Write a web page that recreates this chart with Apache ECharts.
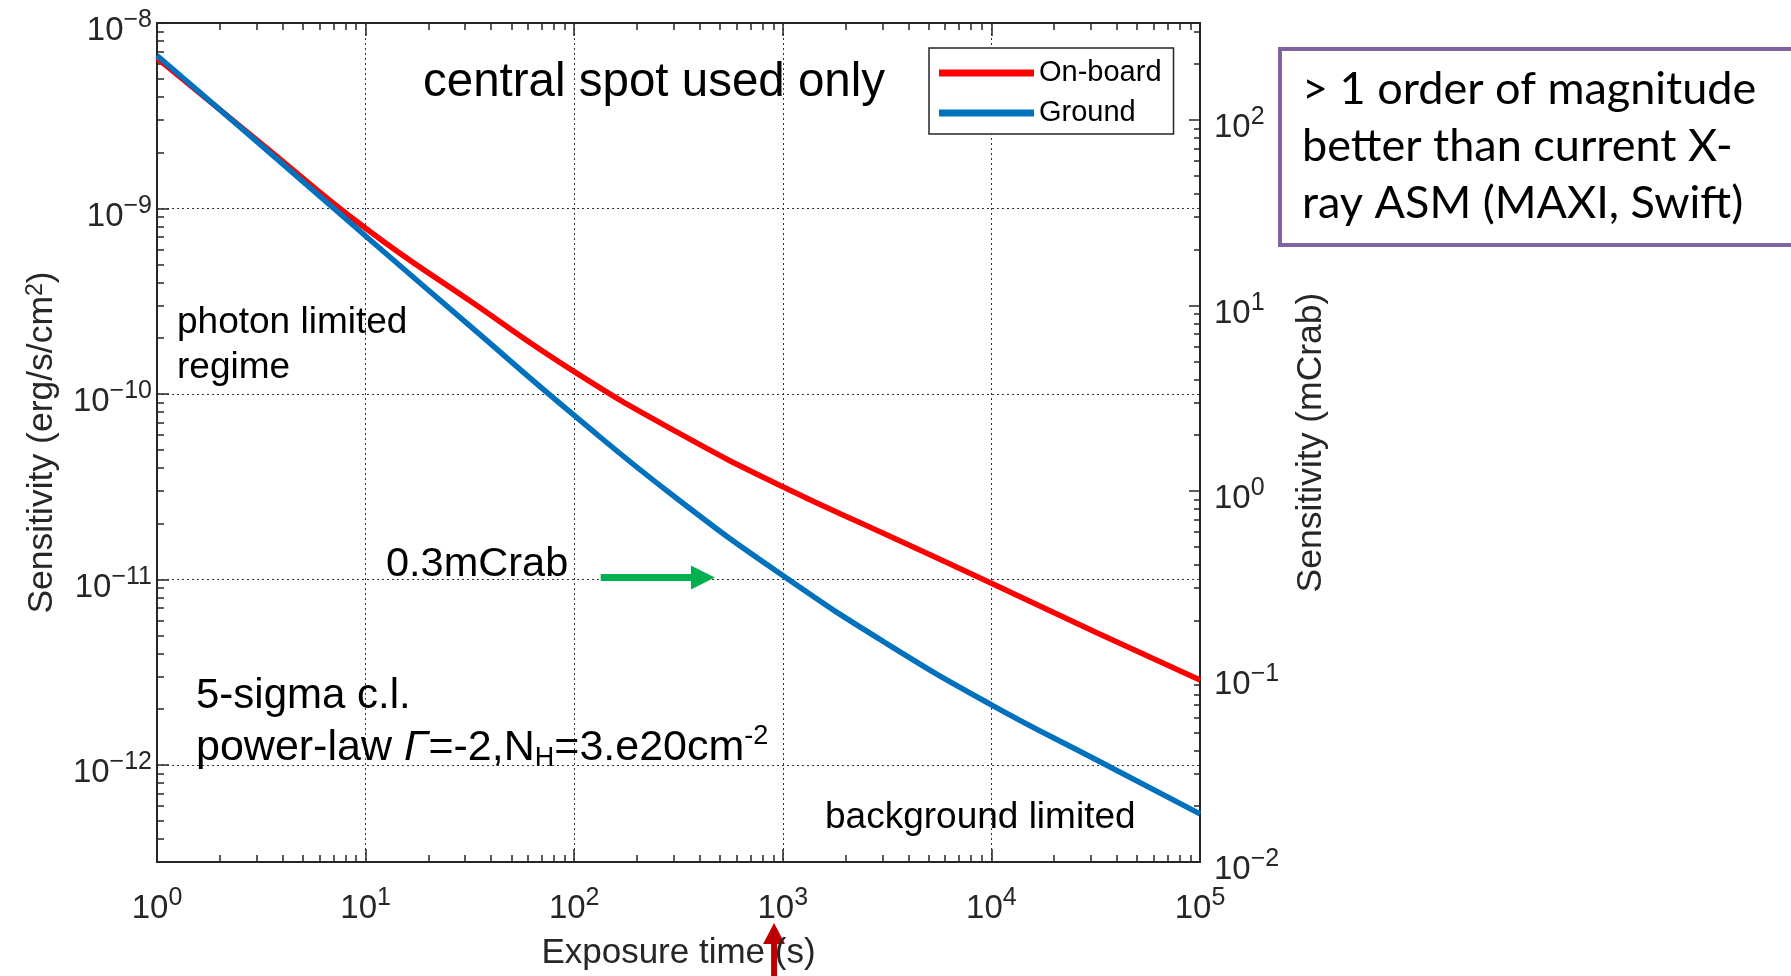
<!DOCTYPE html>
<html>
<meta charset="UTF-8">
<title>sensitivity</title>
<style type="text/css">
    html,
    body {
        margin: 0px;
        background: #ffffff;
    }

    #chart {
        width: 1791px;
        height: 976px;
    }
</style>
<script src="https://cdn.jsdelivr.net/npm/echarts@6/dist/echarts.min.js"></script>

<body>
    <div id="chart"></div>
    <script>
        // exposure time (s), half-decade steps
        const expTime = [1, 3.162, 10, 31.62, 100, 316.2, 1000, 3162, 10000, 31623, 100000];
        // sensitivity (erg/s/cm^2)
        const onBoard = [6.46e-9, 2.24e-9, 7.82e-10, 3.18e-10, 1.32e-10, 6.17e-11, 3.16e-11, 1.74e-11, 9.55e-12, 5.19e-12, 2.87e-12];
        const ground = [6.68e-9, 2.19e-9, 7.11e-10, 2.33e-10, 7.67e-11, 2.69e-11, 1.05e-11, 4.5e-12, 2.11e-12, 1.07e-12, 5.45e-13];

        const xMajor = [1, 10, 100, 1000, 10000, 100000];
        const yMajor = [1e-12, 1e-11, 1e-10, 1e-9, 1e-8];
        const crabMajor = [0.01, 0.1, 1, 10, 100];
        const yRange = [3e-13, 1e-8];
        const crabRange = [0.01, 333.33];   // 1 mCrab = 3e-11 erg/s/cm^2

        // green arrow at the 0.3 mCrab level
        const crabArrowTime = [134, 414];
        const crabArrowLevel = 1.026e-11;
        // red arrow under the time axis
        const arrowAtTime = 908;

        const FONT = 'Liberation Sans, Arial, Helvetica, sans-serif';
        const INK = '#262626';

        function minorTicks(lo, hi) {
            const out = [];
            for (let k = Math.floor(Math.log10(lo)); k < Math.ceil(Math.log10(hi)); k++) {
                for (let m = 2; m <= 9; m++) {
                    const v = m * Math.pow(10, k);
                    if (v > lo * 1.001 && v < hi * 0.999) out.push(v);
                }
            }
            return out;
        }

        const expRich = {
            b: { fontSize: 33, lineHeight: 46, color: INK, fontFamily: FONT },
            e: { fontSize: 25, lineHeight: 24, verticalAlign: 'top', color: INK, fontFamily: FONT }
        };
        const powLabel = v => '{b|10}{e|' + String(Math.round(Math.log10(v))).replace('-', '\u2212') + '}';

        const gridLine = { show: true, lineStyle: { color: '#333', width: 1, type: [2, 3] } };
        const frame = { show: true, onZero: false, lineStyle: { color: INK, width: 2 } };

        function tickAxis(pos, range, values, len) {
            return {
                type: 'log', position: pos, min: range[0], max: range[1],
                axisLine: frame,
                axisTick: { show: true, inside: true, length: len, customValues: values, lineStyle: { color: INK, width: 1.5 } },
                axisLabel: { show: false },
                splitLine: { show: false }
            };
        }

        const chart = echarts.init(document.getElementById('chart'));

        const option = {
            animation: false,
            grid: { left: 157, top: 23, width: 1043, height: 840 },
            legend: {
                orient: 'vertical', left: 929, top: 48,
                padding: [10, 12, 6, 10], itemGap: 10,
                icon: 'rect', itemWidth: 95, itemHeight: 7,
                borderColor: INK, borderWidth: 1.5, backgroundColor: '#fff',
                textStyle: { fontFamily: FONT, fontSize: 29, lineHeight: 30, color: '#000' },
                data: ['On-board', 'Ground']
            },
            xAxis: [
                {
                    type: 'log', position: 'bottom', min: 1, max: 1e5,
                    axisLine: frame,
                    axisTick: { show: true, inside: true, length: 13, customValues: xMajor, lineStyle: { color: INK, width: 1.5 } },
                    axisLabel: { customValues: xMajor, margin: 24, formatter: powLabel, rich: expRich },
                    splitLine: gridLine,
                    name: 'Exposure time (s)', nameLocation: 'middle', nameGap: 74,
                    nameTextStyle: { fontFamily: FONT, fontSize: 35, color: INK }
                },
                tickAxis('bottom', [1, 1e5], minorTicks(1, 1e5), 7),
                tickAxis('top', [1, 1e5], xMajor, 13),
                tickAxis('top', [1, 1e5], minorTicks(1, 1e5), 7)
            ],
            yAxis: [
                {
                    type: 'log', position: 'left', min: yRange[0], max: yRange[1],
                    axisLine: frame,
                    axisTick: { show: true, inside: true, length: 12, customValues: yMajor, lineStyle: { color: INK, width: 1.5 } },
                    axisLabel: { customValues: yMajor, margin: 5, padding: [16, 0, 0, 0], formatter: powLabel, rich: expRich },
                    splitLine: gridLine,
                    name: 'Sensitivity (erg/s/cm{s|2})', nameLocation: 'middle', nameRotate: 90, nameGap: 97,
                    nameTextStyle: {
                        fontFamily: FONT, fontSize: 35.5, color: INK,
                        rich: { s: { fontFamily: FONT, fontSize: 23, lineHeight: 22, verticalAlign: 'top', color: INK } }
                    }
                },
                tickAxis('left', yRange, minorTicks(yRange[0], yRange[1]), 7),
                {
                    type: 'log', position: 'right', min: crabRange[0], max: crabRange[1],
                    axisLine: frame,
                    axisTick: { show: true, inside: true, length: 11, customValues: crabMajor, lineStyle: { color: INK, width: 1.5 } },
                    axisLabel: { customValues: crabMajor, margin: 14, padding: [16, 0, 0, 0], formatter: powLabel, rich: expRich },
                    splitLine: { show: false },
                    name: 'Sensitivity (mCrab)', nameLocation: 'middle', nameRotate: 90, nameGap: 93,
                    nameTextStyle: { fontFamily: FONT, fontSize: 35.5, color: INK }
                },
                tickAxis('right', crabRange, minorTicks(crabRange[0], crabRange[1]), 6)
            ],
            series: [
                {
                    name: 'On-board', type: 'line', xAxisIndex: 0, yAxisIndex: 0,
                    data: expTime.map((t, i) => [t, onBoard[i]]),
                    showSymbol: false, smooth: 0.5,
                    lineStyle: { color: '#ff0000', width: 5.5 }, itemStyle: { color: '#ff0000' },
                    z: 3
                },
                {
                    name: 'Ground', type: 'line', xAxisIndex: 0, yAxisIndex: 0,
                    data: expTime.map((t, i) => [t, ground[i]]),
                    showSymbol: false, smooth: 0.5,
                    lineStyle: { color: '#0072bd', width: 5.5 }, itemStyle: { color: '#0072bd' },
                    z: 4,
                    markLine: {
                        silent: true, symbol: ['none', 'triangle'], symbolSize: [24, 24],
                        label: { show: false },
                        lineStyle: { color: '#00b050', width: 7, type: 'solid' },
                        data: [[
                            { coord: [crabArrowTime[0], crabArrowLevel] },
                            { coord: [crabArrowTime[1], crabArrowLevel] }
                        ]]
                    }
                }
            ]
        };
        chart.setOption(option);

        // annotations
        const ax = chart.convertToPixel({ xAxisIndex: 0 }, arrowAtTime);
        const text = (x, y, str, size) => ({
            type: 'text', x: x, y: y,
            style: { text: str, fontFamily: FONT, fontSize: size, fill: '#000', verticalAlign: 'middle' }
        });
        chart.setOption({
            graphic: [
                text(423, 83, 'central spot used only', 47.5),
                {
                    type: 'text', x: 177, y: 345,
                    style: { text: 'photon limited\nregime', fontFamily: FONT, fontSize: 37, lineHeight: 45, fill: '#000', verticalAlign: 'middle' }
                },
                text(386, 565, '0.3mCrab', 41.5),
                text(196, 696, '5-sigma c.l.', 42),
                {
                    type: 'text', x: 196, y: 748,
                    style: {
                        text: '{a|power-law }{g|Γ}{a|=-2,N}{s|H}{a|=3.e20cm}{p|-2}',
                        verticalAlign: 'middle',
                        rich: {
                            a: { fontFamily: FONT, fontSize: 43, lineHeight: 49, fill: '#000' },
                            g: { fontFamily: FONT, fontSize: 43, lineHeight: 49, fontStyle: 'italic', fill: '#000' },
                            s: { fontFamily: FONT, fontSize: 27, lineHeight: 26, verticalAlign: 'bottom', fill: '#000' },
                            p: { fontFamily: FONT, fontSize: 27, lineHeight: 26, verticalAlign: 'top', fill: '#000' }
                        }
                    }
                },
                text(825, 818, 'background limited', 37),
                // dark red arrow pointing at 10^3
                {
                    type: 'group', children: [
                        { type: 'rect', shape: { x: ax - 3, y: 940, width: 6, height: 40 }, style: { fill: '#c00000' } },
                        { type: 'polygon', shape: { points: [[ax, 923], [ax - 11, 944], [ax + 11, 944]] }, style: { fill: '#c00000' } }
                    ]
                },
                // comment box on the right
                {
                    type: 'rect', shape: { x: 1280, y: 49, width: 600, height: 196 },
                    style: { fill: 'none', stroke: '#8064a2', lineWidth: 4 }
                },
                {
                    type: 'text', x: 1302, y: 146,
                    style: {
                        text: '> 1 order of magnitude\nbetter than current X-\nray ASM (MAXI, Swift)',
                        fontFamily: 'Lato, Open Sans, sans-serif', fontSize: 45, lineHeight: 57,
                        fill: '#000', verticalAlign: 'middle'
                    }
                }
            ]
        });
    </script>
</body>

</html>
